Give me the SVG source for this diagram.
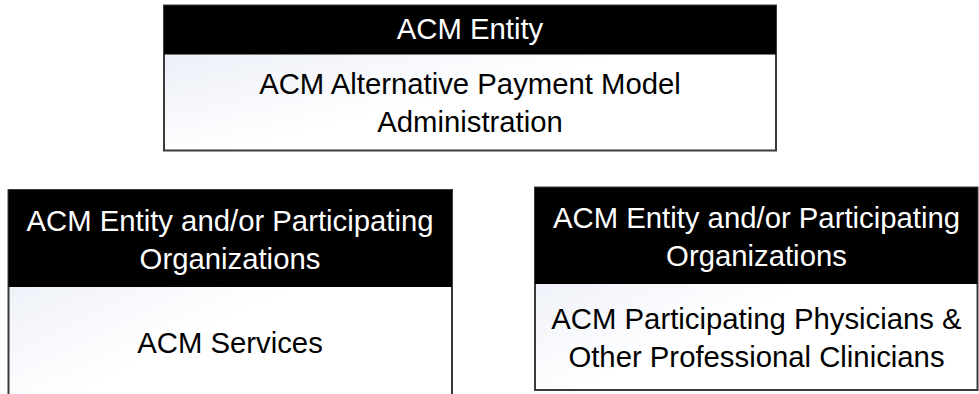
<svg xmlns="http://www.w3.org/2000/svg" width="979" height="394" viewBox="0 0 979 394">
  <defs>
    <linearGradient id="bodyFill" x1="0" y1="0" x2="1" y2="1">
      <stop offset="0" stop-color="#e3e8f4"/>
      <stop offset="0.55" stop-color="#ffffff"/>
      <stop offset="1" stop-color="#ffffff"/>
    </linearGradient>
    <style>
      .frame { fill: url(#bodyFill); stroke: #3a3a3a; stroke-width: 2; }
      .head { fill: #000000; }
      .ht { fill: #ffffff; font-family: "Liberation Sans", Arial, sans-serif; font-size: 29.3px; text-anchor: middle; }
      .bt { fill: #000000; font-family: "Liberation Sans", Arial, sans-serif; font-size: 29.3px; text-anchor: middle; }
    </style>
  </defs>
  <rect width="979" height="394" fill="#ffffff"/>
  <g id="connectors"></g>

  <g id="node-acm-entity">
    <rect class="frame" x="164" y="5.5" width="612" height="145"/>
    <rect class="head" x="164" y="5.5" width="612" height="49"/>
    <text class="ht" x="470" y="39">ACM Entity</text>
    <text class="bt" x="470" y="94">ACM Alternative Payment Model</text>
    <text class="bt" x="470" y="132">Administration</text>
  </g>

  <g id="node-acm-services">
    <rect class="frame" x="8.5" y="190" width="443.5" height="214"/>
    <rect class="head" x="8.5" y="190" width="443.5" height="97"/>
    <text class="ht" x="230" y="230.5">ACM Entity and/or Participating</text>
    <text class="ht" x="230" y="269">Organizations</text>
    <text class="bt" x="230" y="353">ACM Services</text>
  </g>

  <g id="node-acm-physicians">
    <rect class="frame" x="535" y="187.5" width="442.5" height="202.5"/>
    <rect class="head" x="535" y="187.5" width="442.5" height="96.5"/>
    <text class="ht" x="756.5" y="227.5">ACM Entity and/or Participating</text>
    <text class="ht" x="756.5" y="266">Organizations</text>
    <text class="bt" x="756.5" y="328.5">ACM Participating Physicians &amp;</text>
    <text class="bt" x="756.5" y="367">Other Professional Clinicians</text>
  </g>
</svg>
